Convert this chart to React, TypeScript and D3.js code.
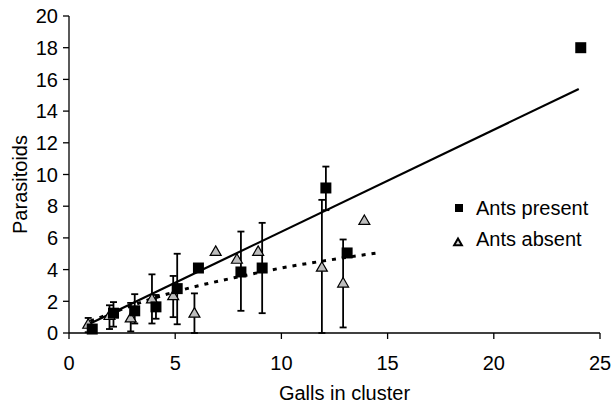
import * as d3 from 'd3';
import React from 'react';

// ants present (black squares)
const presentX = [1, 2, 3, 4, 5, 6, 8, 9, 12, 13, 24];
const presentY = [0.25, 1.25, 1.4, 1.65, 2.8, 4.1, 3.85, 4.1, 9.15, 5.05, 18.0];
const presentLo = [null, 0.4, 0.6, 0.9, 0.55, null, 1.4, 1.25, 7.75, null, null];
const presentHi = [null, 1.95, 2.45, 2.4, 5.0, null, 6.4, 6.95, 10.5, null, null];

// ants absent (grey triangles)
const absentX = [1, 2, 3, 4, 5, 6, 7, 8, 9, 12, 13, 14];
const absentY = [0.5, 1.05, 0.9, 2.1, 2.3, 1.2, 5.1, 4.6, 5.1, 4.1, 3.1, 7.05];
const absentLo = [0.05, 0.25, 0.1, 0.6, 1.0, 0, null, null, null, 0, 0.35, null];
const absentHi = [0.95, 1.75, 1.9, 3.7, 3.6, 2.5, null, null, null, 8.4, 5.9, null];

// fitted lines
const presentFitX = [1, 24];
const presentFitY = [0.6, 15.4];
const absentFitX = [1, 2, 3, 4, 5, 6, 8, 10, 12, 14.5];
const absentFitY = [0.75, 1.25, 1.75, 2.2, 2.6, 2.95, 3.55, 4.1, 4.55, 5.05];

const xTicks = [0, 5, 10, 15, 20, 25];
const yTicks = [0, 2, 4, 6, 8, 10, 12, 14, 16, 18, 20];

export default function App() {
  const width = 614;
  const height = 406;
  const marginLeft = 69;
  const marginRight = 14;
  const marginTop = 16;
  const marginBottom = 73;
  const font = "'Liberation Sans', Arial, Helvetica, sans-serif";

  const x = d3.scaleLinear().domain([0, 25]).range([marginLeft, width - marginRight]);
  const y = d3.scaleLinear().domain([0, 20]).range([height - marginBottom, marginTop]);

  const line = d3.line<number>().x((d, i) => x(presentFitX[i])).y(d => y(d));
  const curve = d3.line<number>()
    .x((d, i) => x(absentFitX[i]))
    .y(d => y(d))
    .curve(d3.curveMonotoneX);

  const square = d3.symbol().type(d3.symbolSquare).size(121)();
  const tri = d3.symbol().type(d3.symbolTriangle).size(52)();
  const triSmall = d3.symbol().type(d3.symbolTriangle).size(26)();

  const errBar = (cx: number, lo: number | null, hi: number | null, key: string) => {
    if (lo == null || hi == null) return null;
    return (
      <g key={key} stroke="#000" strokeWidth={1.8}>
        <line x1={cx} x2={cx} y1={y(lo)} y2={y(hi)} />
        <line x1={cx - 3.5} x2={cx + 3.5} y1={y(hi)} y2={y(hi)} />
        <line x1={cx - 3.5} x2={cx + 3.5} y1={y(lo)} y2={y(lo)} />
      </g>
    );
  };

  return (
    <svg width={width} height={height} style={{ position: 'absolute', left: 0, top: 0 }} fontFamily={font}>
      <rect width={width} height={height} fill="#fff" />
      {/* axes */}
      <g stroke="#000" strokeWidth={1.3}>
        <line x1={x(0)} x2={x(0)} y1={y(0)} y2={y(20)} />
        <line x1={x(0)} x2={x(25)} y1={y(0)} y2={y(0)} />
        {yTicks.map(t => (
          <line key={'yt' + t} x1={x(0) - 6} x2={x(0)} y1={y(t)} y2={y(t)} />
        ))}
        {xTicks.map(t => (
          <line key={'xt' + t} x1={x(t)} x2={x(t)} y1={y(0)} y2={y(0) + 6} />
        ))}
      </g>
      {yTicks.map(t => (
        <text key={'yl' + t} x={x(0) - 11} y={y(t)} dy="0.36em" textAnchor="end" fontSize={20}>{t}</text>
      ))}
      {xTicks.map(t => (
        <text key={'xl' + t} x={x(t)} y={y(0) + 37} textAnchor="middle" fontSize={20}>{t}</text>
      ))}
      <text x={(x(0) + x(25)) / 2 + 10} y={400} textAnchor="middle" fontSize={20}>Galls in cluster</text>
      <text transform={`translate(27,${(y(0) + y(20)) / 2 + 10}) rotate(-90)`} textAnchor="middle" fontSize={20}>Parasitoids</text>

      {/* fitted lines */}
      <path d={line(presentFitY) || ''} fill="none" stroke="#000" strokeWidth={2.2} />
      <path d={curve(absentFitY) || ''} fill="none" stroke="#000" strokeWidth={3} strokeDasharray="4,6" />

      {/* error bars */}
      {presentX.map((v, i) => errBar(x(v) + 2, presentLo[i], presentHi[i], 'pe' + i))}
      {absentX.map((v, i) => errBar(x(v) - 2, absentLo[i], absentHi[i], 'ae' + i))}

      {/* markers */}
      {absentX.map((v, i) => (
        <path key={'a' + i} d={tri || ''} transform={`translate(${x(v) - 2},${y(absentY[i])})`} fill="#bdbdbd" stroke="#000" strokeWidth={1.2} />
      ))}
      {presentX.map((v, i) => (
        <path key={'p' + i} d={square || ''} transform={`translate(${x(v) + 2},${y(presentY[i])})`} fill="#000" />
      ))}

      {/* legend */}
      <path d={d3.symbol().type(d3.symbolSquare).size(64)() || ''} transform="translate(459,208)" fill="#000" />
      <text x={476} y={215} fontSize={20}>Ants present</text>
      <path d={triSmall || ''} transform="translate(458,243)" fill="#d0d0d0" stroke="#000" strokeWidth={2} />
      <text x={476} y={246} fontSize={20}>Ants absent</text>
    </svg>
  );
}
